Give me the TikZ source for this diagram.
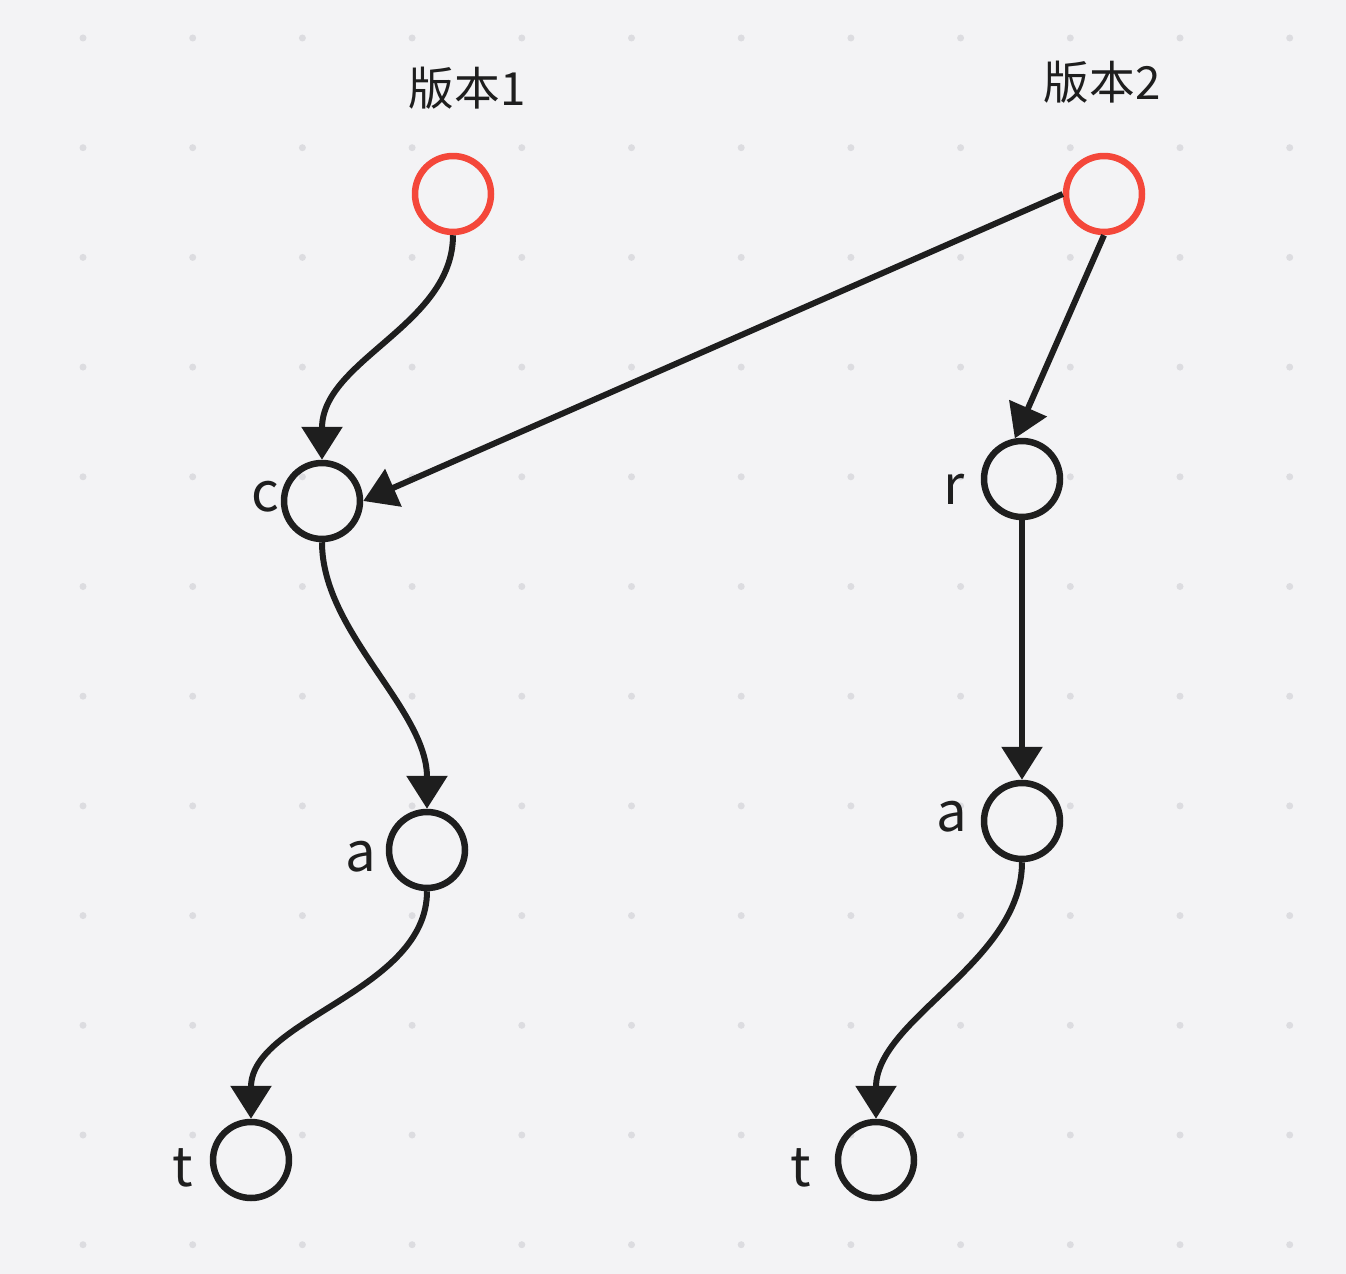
\documentclass[tikz,border=0pt]{standalone}
\usepackage{fontspec}
\setmainfont{Noto Sans CJK SC}
\usetikzlibrary{arrows.meta}

\definecolor{bgcol}{HTML}{F3F3F5}
\definecolor{dotcol}{HTML}{DCDCE0}
\definecolor{rootred}{HTML}{F4473A}
\definecolor{inkcol}{HTML}{1E1E1E}

\tikzset{
  trienode/.style={circle,draw=inkcol,line width=0.13cm,minimum size=1.52cm,inner sep=0pt},
  rootnode/.style={trienode,draw=rootred},
  trielink/.style={draw=inkcol,line width=0.12cm,-{Triangle[length=0.66cm,width=0.8cm]}},
  title/.style={text=inkcol,inner sep=0pt,font=\fontsize{26}{30}\selectfont},
  letter/.style={text=inkcol,inner sep=0pt,font=\fontsize{31}{34}\selectfont}
}

\begin{document}
\begin{tikzpicture}[x=0.02cm,y=-0.02cm]
\fill[bgcol] (0,0) rectangle (1346,1274);
\useasboundingbox (0,0) rectangle (1346,1274);
\foreach \i in {0,...,11}
  \foreach \j in {0,...,11}
    \fill[dotcol] (83+109.7*\i,38+109.7*\j) circle (0.07cm);

% version 1
\node[rootnode] (v1) at (453,194) {};
\node[title] (v1lab) at (467,88) {版本1};
\node[trienode] (c1) at (322,501) {};
\node[trienode] (a1) at (427,850) {};
\node[trienode] (t1) at (251,1160) {};
\node[letter] (c1lab) at (265,497) {c};
\node[letter] (a1lab) at (361,857) {a};
\node[letter] (t1lab) at (183,1168) {t};

% version 2
\node[rootnode] (v2) at (1104,194) {};
\node[title] (v2lab) at (1102,82) {版本2};
\node[trienode] (r2) at (1022,479) {};
\node[trienode] (a2) at (1022,821) {};
\node[trienode] (t2) at (876,1160) {};
\node[letter] (r2lab) at (954,489) {r};
\node[letter] (a2lab) at (952,817) {a};
\node[letter] (t2lab) at (801,1168) {t};

\draw[trielink] (v1.south) .. controls +(0,90) and +(0,-100) .. (c1.north);
\draw[trielink] (c1.south) .. controls +(0,90) and +(0,-100) .. (a1.north);
\draw[trielink] (a1.south) .. controls +(0,100) and +(0,-100) .. (t1.north);
\draw[trielink] (v2.west) -- (c1.east);
\draw[trielink] (v2.south) -- (r2.100);
\draw[trielink] (r2.south) -- (a2.north);
\draw[trielink] (a2.south) .. controls +(0,100) and +(0,-100) .. (t2.north);
\end{tikzpicture}
\end{document}
